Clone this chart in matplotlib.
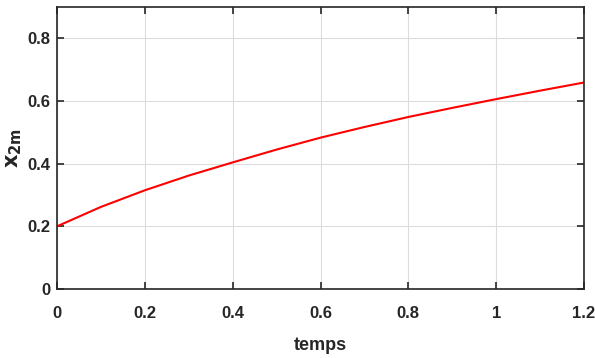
import matplotlib
matplotlib.use("Agg")
from matplotlib import pyplot as plt

plt.rcParams['font.family'] = ['Liberation Sans Narrow', 'Liberation Sans', 'DejaVu Sans']

temps = [0, 0.1, 0.2, 0.3, 0.4, 0.5, 0.6, 0.7, 0.8, 0.9, 1.0, 1.1, 1.2]
x2m = [0.2, 0.262, 0.315, 0.362, 0.404, 0.445, 0.483, 0.517, 0.549, 0.578, 0.606, 0.633, 0.659]

fig = plt.figure(figsize=(5.95, 3.58), dpi=100)
ax = fig.add_axes([57/595, 1 - 289/358, 527/595, 282/358])
ax.plot(temps, x2m, color="red", linewidth=1.5)
ax.set_xlim(0, 1.2)
ax.set_ylim(0, 0.9)
ax.set_xticks([0, 0.2, 0.4, 0.6, 0.8, 1.0, 1.2])
ax.set_xticklabels(["0", "0.2", "0.4", "0.6", "0.8", "1", "1.2"])
ax.set_yticks([0, 0.2, 0.4, 0.6, 0.8])
ax.set_yticklabels(["0", "0.2", "0.4", "0.6", "0.8"])
ax.grid(True, color="#dcdcdc", linewidth=0.8)
ax.tick_params(direction="in", top=True, right=True, length=5, width=1.2,
               labelsize=12, colors="#262626")
ax.tick_params(axis="x", pad=12)
ax.tick_params(axis="y", pad=5)
for lab in ax.get_xticklabels() + ax.get_yticklabels():
    lab.set_fontweight("bold")
for s in ax.spines.values():
    s.set_color("#262626")
    s.set_linewidth(1.2)
ax.set_xlabel("temps", fontsize=13, fontweight="bold", color="#262626", labelpad=12)
ax.set_ylabel(r"$\mathbf{x_{2m}}$", fontsize=15, color="#262626", labelpad=2)

fig.savefig("out.png", dpi=100)
